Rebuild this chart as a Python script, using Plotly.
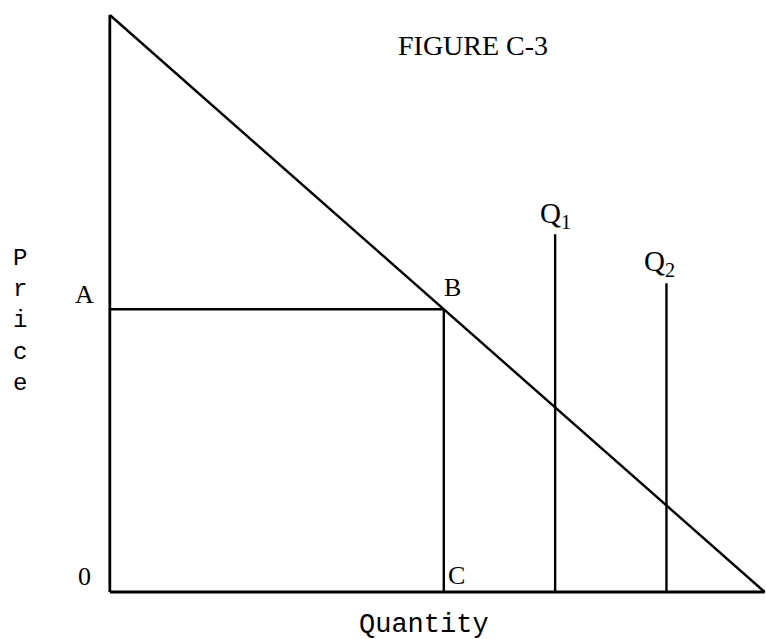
import plotly.graph_objects as go

# demand curve and the lines of figure C-3 (price on y, quantity on x)
demand_q = [0, 10]
demand_p = [10, 0]

price_axis_top = 10
quantity_axis_end = 10

# point B on the demand curve
q_b = 5.1
p_b = 4.9

# the two vertical quantity lines
q1 = 6.8
q1_top = 6.2
q2 = 8.5
q2_top = 5.35

fig = go.Figure()

linea = dict(color="black", width=2.4)

# ejes
fig.add_trace(go.Scatter(x=[0, 0], y=[0, price_axis_top], mode="lines", line=dict(color="black", width=2.8)))
fig.add_trace(go.Scatter(x=[0, quantity_axis_end], y=[0, 0], mode="lines", line=dict(color="black", width=2.8)))

# demanda
fig.add_trace(go.Scatter(x=demand_q, y=demand_p, mode="lines", line=linea))

# rectangulo A-B-C
fig.add_trace(go.Scatter(x=[0, q_b], y=[p_b, p_b], mode="lines", line=linea))
fig.add_trace(go.Scatter(x=[q_b, q_b], y=[p_b, 0], mode="lines", line=linea))

# Q1 y Q2
fig.add_trace(go.Scatter(x=[q1, q1], y=[0, q1_top], mode="lines", line=linea))
fig.add_trace(go.Scatter(x=[q2, q2], y=[0, q2_top], mode="lines", line=linea))

serif = dict(family="Liberation Serif", size=26, color="black")
mono = dict(family="Liberation Mono", size=27, color="black")

etiquetas = [
    ("FIGURE C-3", 5.55, 9.48, "center", dict(family="Liberation Serif", size=28, color="black")),
    ("A", -0.38, 5.15, "center", serif),
    ("B", 5.23, 5.27, "center", serif),
    ("C", 5.14, 0.29, "left", serif),
    ("0", -0.38, 0.26, "center", serif),
    ("Q<sub>1</sub>", 6.81, 6.53, "center", dict(family="Liberation Serif", size=29, color="black")),
    ("Q<sub>2</sub>", 8.4, 5.7, "center", dict(family="Liberation Serif", size=29, color="black")),
    ("Quantity", 4.8, -0.57, "center", mono),
    ("P<br>r<br>i<br>c<br>e", -1.37, 4.69, "center", dict(family="Liberation Mono", size=24, color="black")),
]
for texto, x, y, xa, fuente in etiquetas:
    fig.add_annotation(x=x, y=y, text=texto, showarrow=False, xanchor=xa, yanchor="middle", font=fuente)

fig.update_layout(
    width=766,
    height=639,
    margin=dict(l=0, r=0, t=0, b=0),
    paper_bgcolor="white",
    plot_bgcolor="white",
    showlegend=False,
    hovermode=False,
    xaxis=dict(range=[-1.677, 10.02], visible=False, fixedrange=True),
    yaxis=dict(range=[-0.815, 10.26], visible=False, fixedrange=True),
)

# quitar el margen del body para que la figura empiece en (0, 0)
fig.write_html(
    "out.html",
    config={"displayModeBar": False},
    post_script="document.body.style.margin='0';document.body.style.overflow='hidden';",
)
